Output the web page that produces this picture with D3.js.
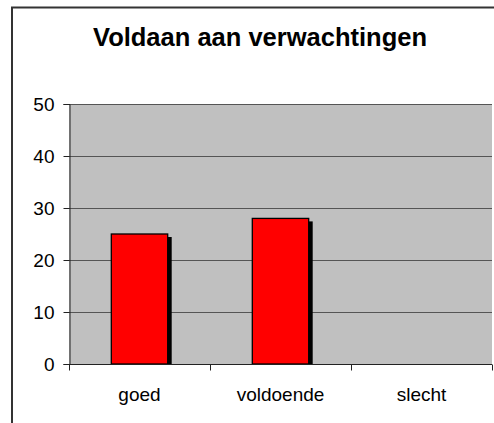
<!DOCTYPE html>
<html>
<head>
<meta charset="utf-8">
<script src="https://cdn.jsdelivr.net/npm/d3@7"></script>
<style>
  body { margin: 0; background: #fff; }
  svg { display: block; font-family: "Liberation Sans", Arial, sans-serif; }
</style>
</head>
<body>
<div id="chart"></div>
<script>
const width = 494;
const height = 423;

const title = "Voldaan aan verwachtingen";
const categories = ["goed", "voldoende", "slecht"];
const values = [25, 28, 0];
const yTicks = [0, 10, 20, 30, 40, 50];

const colors = {
  plot: "#c0c0c0",
  bar: "#ff0000",
  grid: "#555555",
  axis: "#222222",
  frame: "#333333"
};

const margin = { top: 104, right: 2, bottom: 59, left: 69 };

const svg = d3.select("#chart")
  .append("svg")
  .attr("width", width)
  .attr("height", height);

// outer chart frame (runs off the right and bottom edge)
svg.append("rect")
  .attr("x", 12)
  .attr("y", 7.5)
  .attr("width", width + 20)
  .attr("height", height + 20)
  .attr("fill", "#fff")
  .attr("stroke", colors.frame)
  .attr("stroke-width", 2);

svg.append("text")
  .attr("x", 260)
  .attr("y", 46)
  .attr("text-anchor", "middle")
  .attr("font-size", 25.5)
  .attr("font-weight", "bold")
  .text(title);

const x = d3.scaleBand()
  .domain(categories)
  .range([margin.left, width - margin.right])
  .padding(0);

const y = d3.scaleLinear()
  .domain([0, 50])
  .range([height - margin.bottom, margin.top]);

const g = svg.append("g");

g.append("rect")
  .attr("x", margin.left)
  .attr("y", margin.top)
  .attr("width", width - margin.right - margin.left)
  .attr("height", y(0) - margin.top)
  .attr("fill", colors.plot);

// gridlines
g.selectAll(".grid")
  .data(yTicks.filter(d => d > 0))
  .enter()
  .append("line")
  .attr("x1", margin.left)
  .attr("x2", width - margin.right)
  .attr("y1", d => Math.round(y(d)) + 0.5)
  .attr("y2", d => Math.round(y(d)) + 0.5)
  .attr("stroke", colors.grid)
  .attr("stroke-width", 1);

const barW = x.bandwidth() * 0.4;
const bars = categories.map((c, i) => ({ cat: c, value: values[i] })).filter(d => d.value > 0);

// bar shadows
g.selectAll(".shadow")
  .data(bars)
  .enter()
  .append("rect")
  .attr("x", d => x(d.cat) + (x.bandwidth() - barW) / 2 + 4)
  .attr("y", d => y(d.value) + 3)
  .attr("width", barW)
  .attr("height", d => y(0) - y(d.value) - 3)
  .attr("fill", "#000");

g.selectAll(".bar")
  .data(bars)
  .enter()
  .append("rect")
  .attr("x", d => x(d.cat) + (x.bandwidth() - barW) / 2)
  .attr("y", d => y(d.value))
  .attr("width", barW)
  .attr("height", d => y(0) - y(d.value))
  .attr("fill", colors.bar)
  .attr("stroke", "#000")
  .attr("stroke-width", 1.3);

// y axis
const yAxis = svg.append("g")
  .attr("transform", `translate(${margin.left + 0.5},0)`)
  .call(d3.axisLeft(y).tickValues(yTicks).tickSize(6).tickPadding(9));
yAxis.selectAll("text").attr("font-size", 19).attr("fill", "#000").attr("font-family", "Liberation Sans, Arial, sans-serif");
yAxis.selectAll("line, path").attr("stroke", colors.axis);

// x axis
const xTicks = categories.map(c => x(c)).concat([x(categories[categories.length - 1]) + x.bandwidth()]);
const xAxis = svg.append("g").attr("transform", `translate(0,${Math.round(y(0)) + 0.5})`);
xAxis.append("line")
  .attr("x1", margin.left)
  .attr("x2", width - margin.right)
  .attr("stroke", colors.axis);
xAxis.selectAll(".tick")
  .data(xTicks)
  .enter()
  .append("line")
  .attr("x1", d => Math.round(d) + 0.5)
  .attr("x2", d => Math.round(d) + 0.5)
  .attr("y1", 0)
  .attr("y2", 6)
  .attr("stroke", colors.axis);
xAxis.selectAll(".label")
  .data(categories)
  .enter()
  .append("text")
  .attr("x", d => x(d) + x.bandwidth() / 2)
  .attr("y", 36)
  .attr("text-anchor", "middle")
  .attr("font-size", 19)
  .text(d => d);
</script>
</body>
</html>
